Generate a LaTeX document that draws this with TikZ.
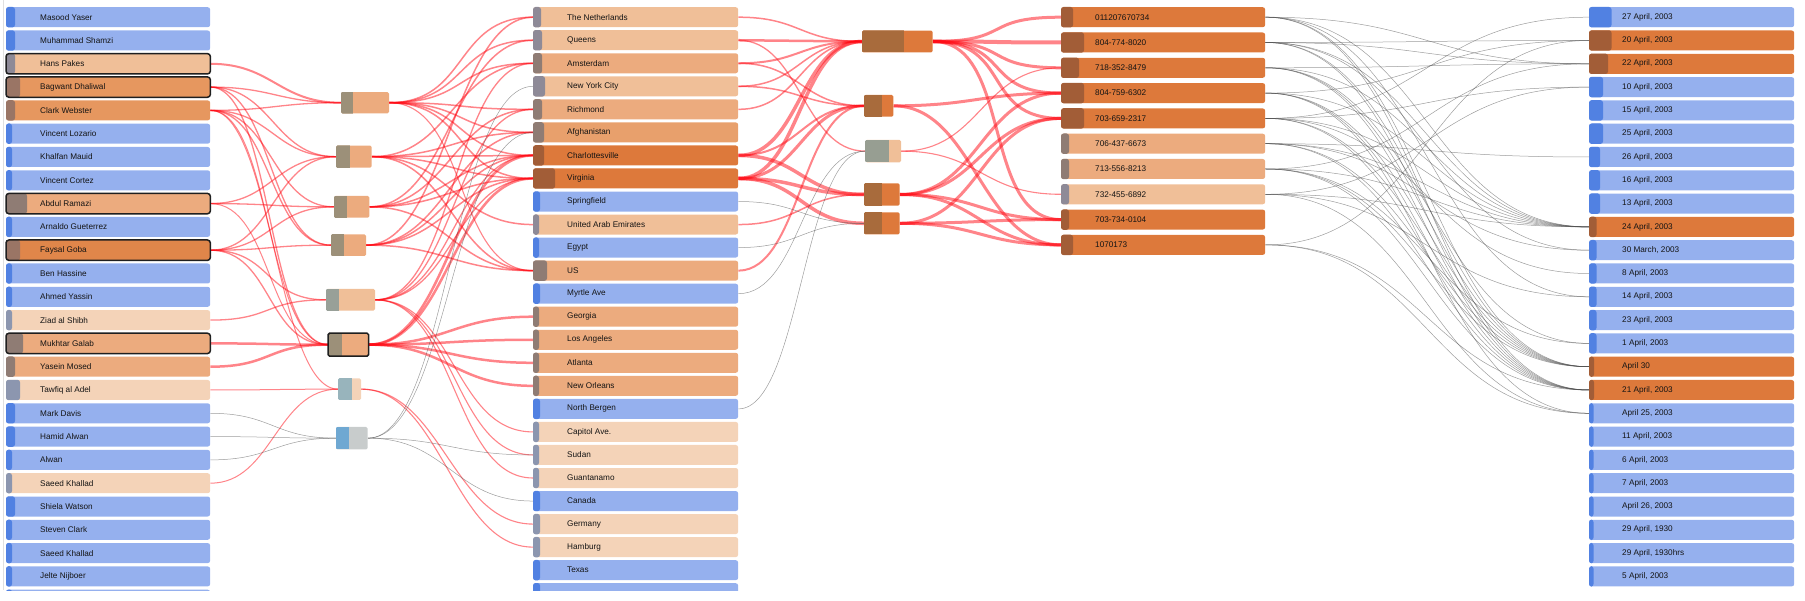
\documentclass[tikz,border=0pt]{standalone}
\usepackage{fontspec}
\setmainfont{Liberation Sans}
\pgfdeclarelayer{bg}
\pgfsetlayers{bg,main}
\definecolor{bfill}{HTML}{95B0EE}
\definecolor{bstrip}{HTML}{5181E2}
\definecolor{dfill}{HTML}{DD793B}
\definecolor{dstrip}{HTML}{A25D37}
\definecolor{ofill}{HTML}{E6975F}
\definecolor{gfill}{HTML}{E0864A}
\definecolor{ostrip}{HTML}{9A7565}
\definecolor{pfill}{HTML}{ECAB7E}
\definecolor{afill}{HTML}{E8A06C}
\definecolor{pstrip}{HTML}{8F7C74}
\definecolor{lfill}{HTML}{F0BF98}
\definecolor{lstrip}{HTML}{8E8A97}
\definecolor{vfill}{HTML}{F4D3B8}
\definecolor{vstrip}{HTML}{8C96AF}
\definecolor{anL}{HTML}{9C9079}
\definecolor{agL}{HTML}{98A098}
\definecolor{atL}{HTML}{98B4BC}
\definecolor{abL}{HTML}{6FA8D2}
\definecolor{abR}{HTML}{C8CCCC}
\definecolor{bnL}{HTML}{A86B3C}
\definecolor{bgL}{HTML}{979E92}
\definecolor{linkred}{HTML}{FF0A14}
\tikzset{
  rowbox/.style={rectangle, rounded corners=2.5pt, minimum height=20pt, inner sep=0pt, draw=none},
  smallbox/.style={rectangle, rounded corners=1.5pt, inner sep=0pt, draw=none},
  lbl/.style={anchor=west, inner sep=0pt, font=\fontsize{8.2}{9}\selectfont, text=black!92},
  hlline/.style={draw=black!88, line width=1.5pt, rounded corners=3pt},
  rl/.style={draw=linkred, draw opacity=0.5, line width=1.3pt},
  gl/.style={draw=black!70, draw opacity=0.55, line width=0.5pt}
}
\newcommand{\mkrow}[9]{%
  \node[rowbox, fill=#5, minimum width=#4pt, anchor=north west] (#1) at (#2,#3) {};
  \fill[#6, rounded corners=2.5pt] (#1.north west) rectangle ([xshift=#7pt]#1.south west);
  \node[lbl] (#1t) at ([xshift=#9pt]#1.west) {#8};
}
\newcommand{\mksplit}[8]{%
  \node[smallbox, fill=#8, minimum width=#4pt, minimum height=#5pt] (#1) at (#2,#3) {};
  \begin{scope}
    \clip[rounded corners=1.5pt] (#1.north west) rectangle (#1.south east);
    \fill[#7] (#1.north west) rectangle ([xshift=#6pt]#1.south west);
  \end{scope}
}
\newcommand{\hlbox}[1]{\draw[hlline] (#1.north west) rectangle (#1.south east);}
\newcommand{\lk}[4]{\draw[#1] (#2.east) .. controls +(#4,0) and +(-#4,0) .. (#3.west);}
\begin{document}
\begin{tikzpicture}[x=1pt,y=-1pt]
\useasboundingbox (0,0) rectangle (1805,601);
\draw[black!12, line width=0.8pt] (3.5,0) -- (3.5,590);
% ---------- column 1: people ----------
\mkrow{p1}{6}{7}{204}{bfill}{bstrip}{9}{Masood Yaser}{34}
\mkrow{p2}{6}{30.3}{204}{bfill}{bstrip}{9}{Muhammad Shamzi}{34}
\mkrow{p3}{6}{53.6}{204}{lfill}{lstrip}{9}{Hans Pakes}{34}
\mkrow{p4}{6}{76.9}{204}{ofill}{ostrip}{14}{Bagwant Dhaliwal}{34}
\mkrow{p5}{6}{100.2}{204}{ofill}{ostrip}{9}{Clark Webster}{34}
\mkrow{p6}{6}{123.5}{204}{bfill}{bstrip}{6}{Vincent Lozario}{34}
\mkrow{p7}{6}{146.8}{204}{bfill}{bstrip}{6}{Khalfan Mauid}{34}
\mkrow{p8}{6}{170.1}{204}{bfill}{bstrip}{6}{Vincent Cortez}{34}
\mkrow{p9}{6}{193.4}{204}{pfill}{pstrip}{21}{Abdul Ramazi}{34}
\mkrow{p10}{6}{216.7}{204}{bfill}{bstrip}{6}{Arnaldo Gueterrez}{34}
\mkrow{p11}{6}{240}{204}{gfill}{ostrip}{14}{Faysal Goba}{34}
\mkrow{p12}{6}{263.3}{204}{bfill}{bstrip}{6}{Ben Hassine}{34}
\mkrow{p13}{6}{286.6}{204}{bfill}{bstrip}{6}{Ahmed Yassin}{34}
\mkrow{p14}{6}{309.9}{204}{vfill}{vstrip}{6}{Ziad al Shibh}{34}
\mkrow{p15}{6}{333.2}{204}{pfill}{pstrip}{17}{Mukhtar Galab}{34}
\mkrow{p16}{6}{356.5}{204}{pfill}{pstrip}{9}{Yasein Mosed}{34}
\mkrow{p17}{6}{379.8}{204}{vfill}{vstrip}{14}{Tawfiq al Adel}{34}
\mkrow{p18}{6}{403.1}{204}{bfill}{bstrip}{9}{Mark Davis}{34}
\mkrow{p19}{6}{426.4}{204}{bfill}{bstrip}{9}{Hamid Alwan}{34}
\mkrow{p20}{6}{449.7}{204}{bfill}{bstrip}{6}{Alwan}{34}
\mkrow{p21}{6}{473}{204}{vfill}{vstrip}{6}{Saeed Khallad}{34}
\mkrow{p22}{6}{496.3}{204}{bfill}{bstrip}{9}{Shiela Watson}{34}
\mkrow{p23}{6}{519.6}{204}{bfill}{bstrip}{6}{Steven Clark}{34}
\mkrow{p24}{6}{542.9}{204}{bfill}{bstrip}{6}{Saeed Khallad}{34}
\mkrow{p25}{6}{566.2}{204}{bfill}{bstrip}{6}{Jelte Nijboer}{34}
\hlbox{p3}\hlbox{p4}\hlbox{p9}\hlbox{p11}\hlbox{p15}
% ---------- column 2: places ----------
\mkrow{l1}{533}{7}{205}{lfill}{lstrip}{8}{The Netherlands}{34}
\mkrow{l2}{533}{30.04}{205}{lfill}{lstrip}{9}{Queens}{34}
\mkrow{l3}{533}{53.08}{205}{pfill}{pstrip}{9}{Amsterdam}{34}
\mkrow{l4}{533}{76.12}{205}{lfill}{lstrip}{12}{New York City}{34}
\mkrow{l5}{533}{99.16}{205}{pfill}{pstrip}{9}{Richmond}{34}
\mkrow{l6}{533}{122.2}{205}{afill}{pstrip}{11}{Afghanistan}{34}
\mkrow{l7}{533}{145.24}{205}{dfill}{dstrip}{11}{Charlottesville}{34}
\mkrow{l8}{533}{168.28}{205}{dfill}{dstrip}{22}{Virginia}{34}
\mkrow{l9}{533}{191.32}{205}{bfill}{bstrip}{7}{Springfield}{34}
\mkrow{l10}{533}{214.36}{205}{lfill}{lstrip}{6}{United Arab Emirates}{34}
\mkrow{l11}{533}{237.4}{205}{bfill}{bstrip}{6}{Egypt}{34}
\mkrow{l12}{533}{260.44}{205}{pfill}{pstrip}{14}{US}{34}
\mkrow{l13}{533}{283.48}{205}{bfill}{bstrip}{7}{Myrtle Ave}{34}
\mkrow{l14}{533}{306.52}{205}{pfill}{pstrip}{6}{Georgia}{34}
\mkrow{l15}{533}{329.56}{205}{pfill}{pstrip}{6}{Los Angeles}{34}
\mkrow{l16}{533}{352.6}{205}{pfill}{pstrip}{6}{Atlanta}{34}
\mkrow{l17}{533}{375.64}{205}{pfill}{pstrip}{6}{New Orleans}{34}
\mkrow{l18}{533}{398.68}{205}{bfill}{bstrip}{7}{North Bergen}{34}
\mkrow{l19}{533}{421.72}{205}{vfill}{vstrip}{6}{Capitol Ave.}{34}
\mkrow{l20}{533}{444.76}{205}{vfill}{vstrip}{6}{Sudan}{34}
\mkrow{l21}{533}{467.8}{205}{vfill}{vstrip}{6}{Guantanamo}{34}
\mkrow{l22}{533}{490.84}{205}{bfill}{bstrip}{7}{Canada}{34}
\mkrow{l23}{533}{513.88}{205}{vfill}{vstrip}{7}{Germany}{34}
\mkrow{l24}{533}{536.92}{205}{vfill}{vstrip}{7}{Hamburg}{34}
\mkrow{l25}{533}{559.96}{205}{bfill}{bstrip}{7}{Texas}{34}
% partial rows cut by the frame
\begin{scope}
\clip (0,0) rectangle (1805,590);
\mkrow{p26}{6}{589.5}{204}{bfill}{bstrip}{6}{}{34}
\mkrow{l26}{533}{583}{205}{bfill}{bstrip}{7}{}{34}
\end{scope}
% ---------- column 3: phones ----------
\mkrow{ph1}{1061}{7}{204}{dfill}{dstrip}{12}{011207670734}{34}
\mkrow{ph2}{1061}{32.3}{204}{dfill}{dstrip}{23}{804-774-8020}{34}
\mkrow{ph3}{1061}{57.6}{204}{dfill}{dstrip}{18}{718-352-8479}{34}
\mkrow{ph4}{1061}{82.9}{204}{dfill}{dstrip}{23}{804-759-6302}{34}
\mkrow{ph5}{1061}{108.2}{204}{dfill}{dstrip}{23}{703-659-2317}{34}
\mkrow{ph6}{1061}{133.5}{204}{pfill}{pstrip}{8}{706-437-6673}{34}
\mkrow{ph7}{1061}{158.8}{204}{pfill}{pstrip}{8}{713-556-8213}{34}
\mkrow{ph8}{1061}{184.1}{204}{lfill}{lstrip}{8}{732-455-6892}{34}
\mkrow{ph9}{1061}{209.4}{204}{dfill}{dstrip}{8}{703-734-0104}{34}
\mkrow{ph10}{1061}{234.7}{204}{dfill}{dstrip}{12}{1070173}{34}
% ---------- column 4: dates ----------
\mkrow{d1}{1589}{7}{205}{bfill}{bstrip}{22.5}{27 April, 2003}{33}
\mkrow{d2}{1589}{30.3}{205}{dfill}{dstrip}{22.5}{20 April, 2003}{33}
\mkrow{d3}{1589}{53.6}{205}{dfill}{dstrip}{19}{22 April, 2003}{33}
\mkrow{d4}{1589}{76.9}{205}{bfill}{bstrip}{14}{10 April, 2003}{33}
\mkrow{d5}{1589}{100.2}{205}{bfill}{bstrip}{14}{15 April, 2003}{33}
\mkrow{d6}{1589}{123.5}{205}{bfill}{bstrip}{14}{25 April, 2003}{33}
\mkrow{d7}{1589}{146.8}{205}{bfill}{bstrip}{11}{26 April, 2003}{33}
\mkrow{d8}{1589}{170.1}{205}{bfill}{bstrip}{11}{16 April, 2003}{33}
\mkrow{d9}{1589}{193.4}{205}{bfill}{bstrip}{11}{13 April, 2003}{33}
\mkrow{d10}{1589}{216.7}{205}{dfill}{dstrip}{7.5}{24 April, 2003}{33}
\mkrow{d11}{1589}{240}{205}{bfill}{bstrip}{7.5}{30 March, 2003}{33}
\mkrow{d12}{1589}{263.3}{205}{bfill}{bstrip}{7.5}{8 April, 2003}{33}
\mkrow{d13}{1589}{286.6}{205}{bfill}{bstrip}{7.5}{14 April, 2003}{33}
\mkrow{d14}{1589}{309.9}{205}{bfill}{bstrip}{7.5}{23 April, 2003}{33}
\mkrow{d15}{1589}{333.2}{205}{bfill}{bstrip}{7.5}{1 April, 2003}{33}
\mkrow{d16}{1589}{356.5}{205}{dfill}{dstrip}{5}{April 30}{33}
\mkrow{d17}{1589}{379.8}{205}{dfill}{dstrip}{5}{21 April, 2003}{33}
\mkrow{d18}{1589}{403.1}{205}{bfill}{bstrip}{4.5}{April 25, 2003}{33}
\mkrow{d19}{1589}{426.4}{205}{bfill}{bstrip}{4.5}{11 April, 2003}{33}
\mkrow{d20}{1589}{449.7}{205}{bfill}{bstrip}{4.5}{6 April, 2003}{33}
\mkrow{d21}{1589}{473}{205}{bfill}{bstrip}{4.5}{7 April, 2003}{33}
\mkrow{d22}{1589}{496.3}{205}{bfill}{bstrip}{4.5}{April 26, 2003}{33}
\mkrow{d23}{1589}{519.6}{205}{bfill}{bstrip}{4.5}{29 April, 1930}{33}
\mkrow{d24}{1589}{542.9}{205}{bfill}{bstrip}{4.5}{29 April, 1930hrs}{33}
\mkrow{d25}{1589}{566.2}{205}{bfill}{bstrip}{4.5}{5 April, 2003}{33}
% ---------- small nodes A ----------
\mksplit{a1}{365}{102.7}{48}{21.3}{12}{anL}{pfill}
\mksplit{a2}{353.85}{156.7}{35.7}{22}{14}{anL}{pfill}
\mksplit{a3}{351.65}{206.85}{35.3}{21.7}{13.3}{anL}{pfill}
\mksplit{a4}{348.5}{245.15}{35}{21.7}{12.7}{anL}{pfill}
\mksplit{a5}{350.5}{299.85}{49}{21.7}{13.3}{agL}{lfill}
\mksplit{a6}{348.3}{344.65}{40}{22.7}{13.4}{anL}{pfill}
\mksplit{a7}{349.65}{389.15}{22.7}{21.7}{13.7}{atL}{vfill}
\mksplit{a8}{351.85}{438.15}{31.7}{22.3}{13.3}{abL}{abR}
\draw[hlline, rounded corners=1.5pt] (a6.north west) rectangle (a6.south east);
% ---------- small nodes B ----------
\mksplit{b1}{897.35}{41.5}{70.7}{21.6}{42}{bnL}{dfill}
\mksplit{b2}{878.65}{105.85}{29.3}{21.7}{18}{bnL}{dfill}
\mksplit{b3}{883.15}{151.15}{35.7}{22.3}{24}{bgL}{lfill}
\mksplit{b4}{881.85}{194.5}{35.7}{22.4}{18}{bnL}{dfill}
\mksplit{b5}{881.85}{223.3}{35.7}{22}{18}{bnL}{dfill}
% ---------- links ----------
\begin{pgfonlayer}{bg}
% people -> A
\lk{rl,line width=2pt}{p3}{a1}{62}
\lk{rl}{p4}{a1}{62}\lk{rl}{p4}{a2}{62}\lk{rl}{p4}{a4}{62}\lk{rl}{p4}{a6}{62}
\lk{rl}{p5}{a1}{62}\lk{rl}{p5}{a2}{62}\lk{rl}{p5}{a3}{62}\lk{rl}{p5}{a4}{62}
\lk{rl,line width=1pt}{p5}{a6}{62}\lk{rl,line width=1pt}{p5}{a7}{62}
\lk{rl}{p9}{a2}{62}\lk{rl}{p9}{a3}{62}\lk{rl,line width=1pt}{p9}{a6}{62}
\lk{rl}{p11}{a2}{62}\lk{rl}{p11}{a3}{62}\lk{rl}{p11}{a4}{62}\lk{rl}{p11}{a5}{62}\lk{rl}{p11}{a6}{62}
\lk{rl}{p14}{a5}{62}
\lk{rl,line width=2.5pt}{p15}{a6}{62}
\lk{rl,line width=2.5pt}{p16}{a6}{62}
\lk{rl,line width=1pt}{p17}{a7}{62}
\lk{rl,line width=1pt}{p21}{a7}{62}
\lk{gl}{p18}{a8}{62}\lk{gl}{p19}{a8}{62}\lk{gl}{p20}{a8}{62}
% A -> places
\lk{rl,line width=1.5pt}{a1}{l1}{80}\lk{rl,line width=1.5pt}{a1}{l2}{80}\lk{rl,line width=1.5pt}{a1}{l3}{80}
\lk{rl,line width=1.5pt}{a1}{l5}{80}\lk{rl,line width=1.5pt}{a1}{l6}{80}\lk{rl,line width=1.5pt}{a1}{l7}{80}
\lk{rl,line width=1.5pt}{a1}{l8}{80}\lk{rl,line width=1.1pt}{a1}{l12}{80}
\lk{rl,line width=1.5pt}{a2}{l3}{80}\lk{rl,line width=1.5pt}{a2}{l6}{80}\lk{rl,line width=1.5pt}{a2}{l7}{80}
\lk{rl,line width=1.5pt}{a2}{l8}{80}\lk{rl,line width=1.5pt}{a2}{l10}{80}\lk{rl,line width=1.5pt}{a2}{l12}{80}
\lk{rl,line width=1.5pt}{a3}{l2}{80}\lk{rl,line width=1.5pt}{a3}{l5}{80}\lk{rl,line width=1.5pt}{a3}{l7}{80}
\lk{rl,line width=1.5pt}{a3}{l8}{80}\lk{rl,line width=1.5pt}{a3}{l12}{80}
\lk{rl,line width=1.5pt}{a4}{l1}{80}\lk{rl,line width=1.5pt}{a4}{l6}{80}\lk{rl,line width=1.5pt}{a4}{l7}{80}
\lk{rl,line width=1.5pt}{a4}{l8}{80}\lk{rl,line width=1.5pt}{a4}{l12}{80}
\lk{rl}{a5}{l3}{80}\lk{rl}{a5}{l5}{80}\lk{rl}{a5}{l7}{80}\lk{rl}{a5}{l8}{80}
\lk{rl,line width=1.1pt}{a5}{l19}{80}\lk{rl,line width=1.1pt}{a5}{l20}{80}\lk{rl,line width=1.1pt}{a5}{l21}{80}
\lk{rl,line width=2.5pt}{a6}{l7}{80}\lk{rl,line width=2.5pt}{a6}{l8}{80}
\lk{rl,line width=2.5pt}{a6}{l14}{80}\lk{rl,line width=2.5pt}{a6}{l15}{80}
\lk{rl,line width=2.5pt}{a6}{l16}{80}\lk{rl,line width=2.5pt}{a6}{l17}{80}
\lk{rl,line width=1.1pt}{a7}{l23}{80}\lk{rl,line width=1.1pt}{a7}{l24}{80}
\lk{gl}{a8}{l4}{80}\lk{gl}{a8}{l6}{80}\lk{gl}{a8}{l20}{80}\lk{gl}{a8}{l22}{80}
% places -> B
\lk{rl,line width=1.5pt}{l1}{b1}{62}
\lk{rl,line width=2.5pt}{l2}{b1}{62}\lk{rl,line width=1.3pt}{l2}{b3}{62}
\lk{rl,line width=2pt}{l3}{b1}{62}\lk{rl,line width=1.5pt}{l3}{b2}{62}
\lk{rl,line width=1.5pt}{l4}{b1}{62}\lk{rl,line width=1.5pt}{l4}{b2}{62}
\lk{rl,line width=1.5pt}{l5}{b1}{62}
\lk{rl,line width=3.5pt}{l7}{b1}{62}\lk{rl,line width=2pt}{l7}{b2}{62}\lk{rl,line width=3.5pt}{l7}{b4}{62}
\lk{rl,line width=3.5pt}{l8}{b1}{62}\lk{rl,line width=3pt}{l8}{b2}{62}
\lk{rl,line width=3.5pt}{l8}{b4}{62}\lk{rl,line width=3.5pt}{l8}{b5}{62}
\lk{rl,line width=1.5pt}{l10}{b4}{62}
\lk{rl,line width=2pt}{l12}{b2}{62}
\lk{gl}{l9}{b5}{62}\lk{gl}{l11}{b5}{62}\lk{gl}{l13}{b3}{62}\lk{gl}{l18}{b3}{62}
% B -> phones
\lk{rl,line width=3pt}{b1}{ph1}{80}\lk{rl,line width=4pt}{b1}{ph2}{80}\lk{rl,line width=3pt}{b1}{ph3}{80}
\lk{rl,line width=3pt}{b1}{ph4}{80}\lk{rl,line width=3pt}{b1}{ph5}{80}\lk{rl,line width=3pt}{b1}{ph9}{80}
\lk{rl,line width=3pt}{b2}{ph4}{80}\lk{rl,line width=3pt}{b2}{ph10}{80}
\lk{rl,line width=1.1pt}{b3}{ph3}{80}\lk{rl,line width=1.1pt}{b3}{ph8}{80}
\lk{rl,line width=3pt}{b4}{ph4}{80}\lk{rl,line width=3pt}{b4}{ph5}{80}
\lk{rl,line width=3pt}{b4}{ph9}{80}\lk{rl,line width=3pt}{b4}{ph10}{80}
\lk{rl,line width=3pt}{b5}{ph5}{80}\lk{rl,line width=3pt}{b5}{ph9}{80}\lk{rl,line width=3pt}{b5}{ph10}{80}
% phones -> dates
\lk{gl}{ph1}{d3}{162}\lk{gl}{ph1}{d10}{162}\lk{gl}{ph1}{d16}{162}\lk{gl}{ph1}{d17}{162}\lk{gl}{ph1}{d13}{162}
\lk{gl}{ph2}{d2}{162}\lk{gl}{ph2}{d3}{162}\lk{gl}{ph2}{d10}{162}\lk{gl}{ph2}{d16}{162}\lk{gl}{ph2}{d17}{162}\lk{gl}{ph2}{d11}{162}
\lk{gl}{ph3}{d3}{162}\lk{gl}{ph3}{d10}{162}\lk{gl}{ph3}{d16}{162}\lk{gl}{ph3}{d17}{162}\lk{gl}{ph3}{d15}{162}
\lk{gl}{ph4}{d2}{162}\lk{gl}{ph4}{d10}{162}\lk{gl}{ph4}{d16}{162}\lk{gl}{ph4}{d17}{162}\lk{gl}{ph4}{d18}{162}
\lk{gl}{ph5}{d1}{162}\lk{gl}{ph5}{d4}{162}\lk{gl}{ph5}{d10}{162}\lk{gl}{ph5}{d16}{162}\lk{gl}{ph5}{d17}{162}\lk{gl}{ph5}{d12}{162}
\lk{gl}{ph6}{d7}{162}\lk{gl}{ph6}{d10}{162}\lk{gl}{ph6}{d16}{162}\lk{gl}{ph6}{d17}{162}\lk{gl}{ph6}{d11}{162}
\lk{gl}{ph7}{d3}{162}\lk{gl}{ph7}{d10}{162}\lk{gl}{ph7}{d16}{162}\lk{gl}{ph7}{d17}{162}\lk{gl}{ph7}{d15}{162}
\lk{gl}{ph8}{d4}{162}\lk{gl}{ph8}{d18}{162}\lk{gl}{ph8}{d13}{162}\lk{gl}{ph8}{d10}{162}
\lk{gl}{ph10}{d2}{162}\lk{gl}{ph10}{d18}{162}\lk{gl}{ph10}{d17}{162}
\end{pgfonlayer}
\end{tikzpicture}
\end{document}
